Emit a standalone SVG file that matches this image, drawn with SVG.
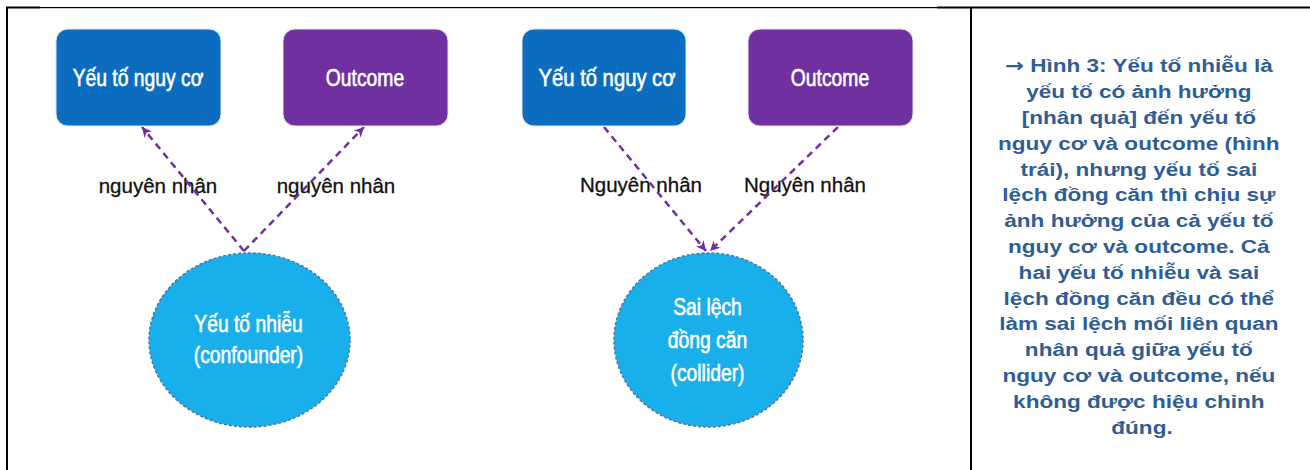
<svg xmlns="http://www.w3.org/2000/svg" width="1310" height="470" viewBox="0 0 1310 470">
<style>
.bx{stroke:#dfe6f0;stroke-width:1}
.blue{fill:#0B6CC0}
.purple{fill:#7030A0}
.ell{fill:#19AFEA;stroke:#4F76A3;stroke-width:1.5;stroke-dasharray:3 2}
.nt{font-family:"Liberation Sans",Arial,sans-serif;font-size:23px;fill:#ffffff;stroke:#ffffff;stroke-width:0.6;text-anchor:middle}
.lb{font-family:"Liberation Sans",Arial,sans-serif;font-size:20.5px;fill:#111111;stroke:#111111;stroke-width:0.3;text-anchor:middle}
.cn{fill:none;stroke:#7030A0;stroke-width:2.5;stroke-dasharray:7 5}
.cap{font-family:"Liberation Sans",Arial,sans-serif;font-weight:bold;font-size:18.8px;fill:#2F5D95;text-anchor:middle}
.arr{font-family:"DejaVu Sans",sans-serif;font-weight:bold}
</style>
<defs>
<marker id="ah" markerUnits="userSpaceOnUse" markerWidth="12" markerHeight="10" refX="10" refY="5" orient="auto">
<path d="M0,0 L10,5 L0,10 L3,5 Z" fill="#7030A0"/>
</marker>
</defs>
<rect width="1310" height="470" fill="#ffffff"/>
<g id="frame" fill="#000000">
<rect x="6" y="6.5" width="34" height="2"/>
<rect x="40" y="7" width="897" height="1.2"/>
<rect x="937" y="6.5" width="373" height="2"/>
<rect x="6" y="7" width="2" height="463"/>
<rect x="970" y="7" width="2" height="463"/>
</g>
<g id="labels">
<text class="lb" x="158" y="193">nguyên nhân</text>
<text class="lb" x="336" y="193">nguyên nhân</text>
<text class="lb" x="641" y="192">Nguyên nhân</text>
<text class="lb" x="805" y="192">Nguyên nhân</text>
</g>
<g id="connectors">
<line class="cn" x1="244" y1="251" x2="142" y2="127" marker-end="url(#ah)"/>
<line class="cn" x1="244" y1="251" x2="364" y2="127" marker-end="url(#ah)"/>
<line class="cn" x1="604" y1="127" x2="706" y2="251" marker-end="url(#ah)"/>
<line class="cn" x1="838" y1="127" x2="710" y2="251" marker-end="url(#ah)"/>
</g>
<g id="n-risk1">
<rect class="bx blue" x="56" y="29" width="165" height="97" rx="12"/>
<text class="nt" transform="translate(138,86) scale(0.84,1)">Yếu tố nguy cơ</text>
</g>
<g id="n-outcome1">
<rect class="bx purple" x="283" y="29" width="165" height="97" rx="12"/>
<text class="nt" transform="translate(365,86) scale(0.84,1)">Outcome</text>
</g>
<g id="n-confounder">
<ellipse class="ell" cx="249.5" cy="340" rx="100.5" ry="87"/>
<text class="nt" transform="translate(248.5,332) scale(0.84,1)">Yếu tố nhiễu</text>
<text class="nt" transform="translate(248.5,363) scale(0.84,1)">(confounder)</text>
</g>
<g id="n-risk2">
<rect class="bx blue" x="522" y="29" width="164" height="97" rx="12"/>
<text class="nt" transform="translate(607,86) scale(0.88,1)">Yếu tố nguy cơ</text>
</g>
<g id="n-outcome2">
<rect class="bx purple" x="748" y="29" width="165" height="97" rx="12"/>
<text class="nt" transform="translate(830,86) scale(0.84,1)">Outcome</text>
</g>
<g id="n-collider">
<ellipse class="ell" cx="708.5" cy="340" rx="94.5" ry="87"/>
<text class="nt" transform="translate(707.5,315) scale(0.84,1)">Sai lệch</text>
<text class="nt" transform="translate(707.5,348) scale(0.84,1)">đồng căn</text>
<text class="nt" transform="translate(707.5,381) scale(0.84,1)">(collider)</text>
</g>
<g id="caption">
<text class="cap" transform="translate(1142,0) scale(1.2,1)">
<tspan x="0" y="72.5"><tspan class="arr">→</tspan> Hình 3: Yếu tố nhiễu là</tspan>
<tspan x="0" y="98.3">yếu tố có ảnh hưởng</tspan>
<tspan x="0" y="124.1">[nhân quả] đến yếu tố</tspan>
<tspan x="0" y="149.9">nguy cơ và outcome (hình</tspan>
<tspan x="0" y="175.7">trái), nhưng yếu tố sai</tspan>
<tspan x="0" y="201.5">lệch đồng căn thì chịu sự</tspan>
<tspan x="0" y="227.3">ảnh hưởng của cả yếu tố</tspan>
<tspan x="0" y="253.1">nguy cơ và outcome. Cả</tspan>
<tspan x="0" y="278.9">hai yếu tố nhiễu và sai</tspan>
<tspan x="0" y="304.7">lệch đồng căn đều có thể</tspan>
<tspan x="0" y="330.5">làm sai lệch mối liên quan</tspan>
<tspan x="0" y="356.3">nhân quả giữa yếu tố</tspan>
<tspan x="0" y="382.1">nguy cơ và outcome, nếu</tspan>
<tspan x="0" y="407.9">không được hiệu chỉnh</tspan>
<tspan x="0" y="433.7">đúng.</tspan>
</text>
</g>
</svg>
